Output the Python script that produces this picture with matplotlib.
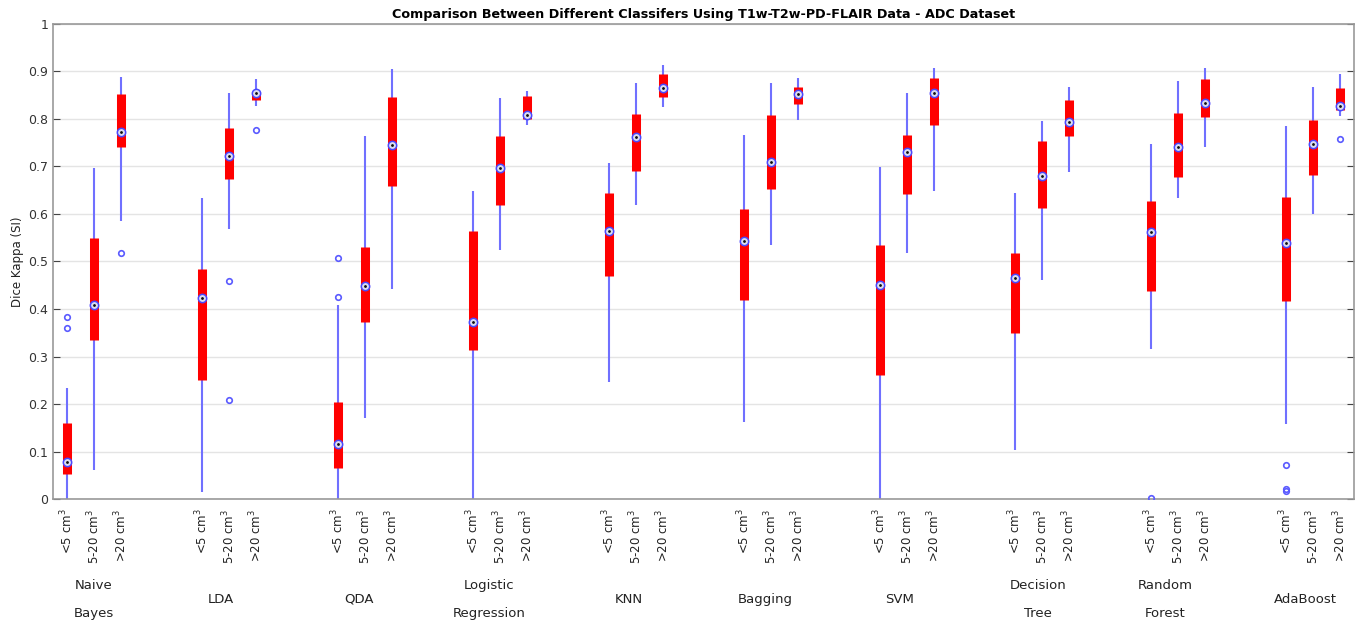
import matplotlib
matplotlib.use('Agg')
import matplotlib.pyplot as plt
import matplotlib.transforms as mtransforms

# classifier groups (two text lines where the original wraps)
classifiers = [['Naive', 'Bayes'], ['LDA'], ['QDA'], ['Logistic', 'Regression'], ['KNN'],
               ['Bagging'], ['SVM'], ['Decision', 'Tree'], ['Random', 'Forest'], ['AdaBoost']]
sizes = ['<5 cm$^3$', '5-20 cm$^3$', '>20 cm$^3$']

# box statistics, one entry per box (classifier x size)
whis_lo = [0.000, 0.061, 0.585,  0.015, 0.569, 0.827,  0.000, 0.171, 0.443,
           0.000, 0.524, 0.787,  0.247, 0.619, 0.826,  0.162, 0.534, 0.797,
           0.000, 0.517, 0.648,  0.104, 0.460, 0.689,  0.315, 0.634, 0.741,
           0.157, 0.600, 0.806]
q1 = [0.052, 0.334, 0.741,  0.250, 0.673, 0.840,  0.066, 0.372, 0.659,
      0.313, 0.619, 0.799,  0.470, 0.690, 0.846,  0.418, 0.653, 0.832,
      0.262, 0.641, 0.788,  0.350, 0.612, 0.764,  0.437, 0.678, 0.805,
      0.416, 0.681, 0.818]
med = [0.077, 0.408, 0.772,  0.424, 0.722, 0.854,  0.116, 0.448, 0.745,
       0.372, 0.696, 0.809,  0.564, 0.762, 0.864,  0.543, 0.709, 0.852,
       0.450, 0.730, 0.854,  0.466, 0.680, 0.794,  0.562, 0.741, 0.834,
       0.539, 0.748, 0.828]
q3 = [0.160, 0.550, 0.852,  0.485, 0.780, 0.856,  0.205, 0.531, 0.845,
      0.564, 0.763, 0.849,  0.643, 0.811, 0.895,  0.611, 0.808, 0.867,
      0.534, 0.766, 0.887,  0.518, 0.753, 0.840,  0.627, 0.812, 0.883,
      0.635, 0.797, 0.866]
whis_hi = [0.234, 0.697, 0.889,  0.633, 0.854, 0.883,  0.409, 0.765, 0.906,
           0.648, 0.843, 0.859,  0.708, 0.875, 0.913,  0.767, 0.875, 0.885,
           0.699, 0.855, 0.908,  0.643, 0.795, 0.868,  0.748, 0.880, 0.908,
           0.786, 0.867, 0.894]

# outliers: box index and value
outlier_box = [0, 0, 2, 4, 4, 5, 6, 6, 24, 27, 27, 27, 29]
outlier_val = [0.383, 0.359, 0.518, 0.459, 0.208, 0.776, 0.507, 0.426,
               0.003, 0.071, 0.022, 0.018, 0.757]

# group label shift from the group centre (in box units)
label_shift = [0.0, -0.3, -0.22, -0.4, -0.25, -0.22, -0.25, -0.15, -0.45, -0.3]

# x positions: 3 boxes per group, groups 5 units apart
pos = [g * 5 + k + 1 for g in range(len(classifiers)) for k in range(3)]

fig = plt.figure(figsize=(13.62, 6.27), dpi=100)
ax = fig.add_axes([0.039, 0.204, 0.955, 0.758])

ax.vlines(pos, whis_lo, whis_hi, color='#7070ff', lw=1.5, zorder=2)
ax.vlines(pos, q1, q3, color='#ff0000', lw=6.5, zorder=3)
ax.plot(pos, med, 'o', ms=6, mfc='#dcdcf0', mec='#4848ff', mew=1.1, zorder=4)
ax.plot(pos, med, '.', ms=2, color='#111111', zorder=5)
ax.plot([pos[i] for i in outlier_box], outlier_val, 'o', ms=4, mfc='none',
        mec='#5a5aff', mew=1.2, zorder=4)

ax.set_xlim(0.5, 48.5)
ax.set_ylim(0, 1)
ax.set_yticks([i / 10 for i in range(11)])
ax.set_yticklabels(['0'] + ['%.1f' % (i / 10) for i in range(1, 10)] + ['1'])
ax.set_xticks(pos)
ax.set_xticklabels(sizes * len(classifiers), rotation=90, fontsize=8.5, color='#222222')
ax.tick_params(axis='x', length=0, pad=7)
ax.tick_params(axis='y', direction='in', right=True, length=5, labelsize=9,
               colors='#444444', labelcolor='#333333')
ax.yaxis.grid(True, color='#e4e4e4', lw=1)
ax.set_axisbelow(True)
for s in ax.spines.values():
    s.set_color('#999999')
    s.set_linewidth(1.2)

ax.set_ylabel('Dice Kappa (SI)', fontsize=8.5, color='#222222', labelpad=3)
ax.set_title('Comparison Between Different Classifers Using T1w-T2w-PD-FLAIR Data - ADC Dataset',
             fontsize=9.2, fontweight='bold', pad=4)

trans = mtransforms.blended_transform_factory(ax.transData, ax.transAxes)
for g, lines in enumerate(classifiers):
    xc = g * 5 + 2 + label_shift[g]
    if len(lines) == 2:
        ax.text(xc, -0.181, lines[0], transform=trans, ha='center', va='center', fontsize=9.5, color='#222222')
        ax.text(xc, -0.24, lines[1], transform=trans, ha='center', va='center', fontsize=9.5, color='#222222')
    else:
        ax.text(xc, -0.211, lines[0], transform=trans, ha='center', va='center', fontsize=9.5, color='#222222')

fig.savefig('out.png', dpi=100)
